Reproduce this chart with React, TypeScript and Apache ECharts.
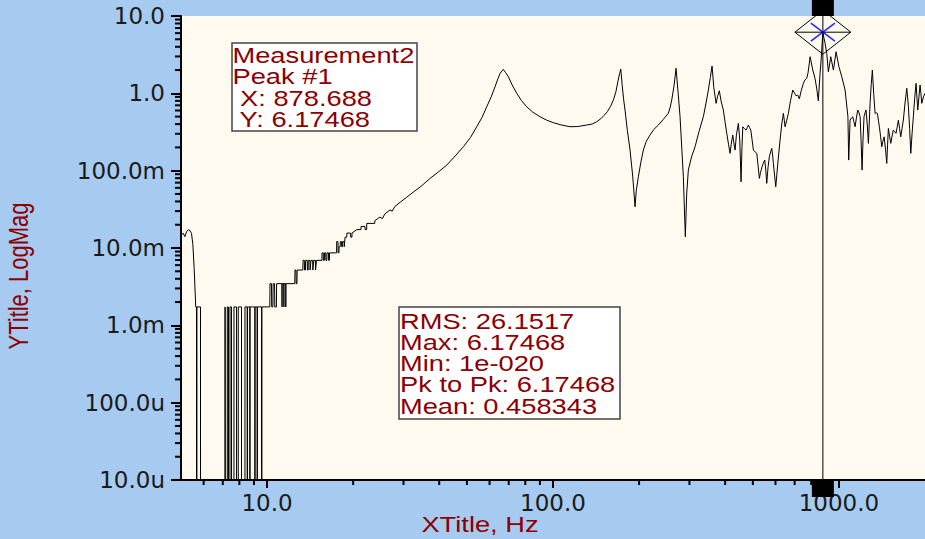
import React, { useEffect, useRef } from "react";
import * as echarts from "echarts";

// ---------- data ----------
// 5 – 20 Hz (quantised values, 1e-20 = zero)
const lowFreqHz = [
  5.0, 5.09, 5.16, 5.23, 5.3, 5.37, 5.44, 5.5, 5.56, 5.63, 5.665, 5.675, 5.685, 5.85, 5.86,
  7.12, 7.13, 7.17, 7.18, 7.25, 7.26, 7.33, 7.34, 7.41, 7.42, 7.51, 7.52, 7.65, 7.66, 7.82, 7.83,
  7.92, 7.93, 8.14, 8.15, 8.36, 8.37, 8.52, 8.53, 8.54, 8.7, 8.71, 8.72, 9.06, 9.07, 9.08, 9.23,
  9.24, 9.25, 9.57, 9.58, 9.59, 10.22, 10.24, 10.36, 10.38, 10.48, 10.5, 10.62, 10.64, 10.78, 10.8,
  11.27, 11.28, 11.29, 11.44, 11.45, 11.46, 11.62, 11.63, 11.64, 12.5, 12.52, 12.62, 12.64, 12.72,
  12.74, 13.34, 13.36, 13.5, 13.52, 13.62, 13.64, 13.82, 13.84, 13.92, 13.94, 14.12, 14.14, 14.22,
  14.24, 14.44, 14.46, 14.54, 14.56, 14.76, 14.78, 14.86, 14.88, 15.55, 15.57, 15.72, 15.74, 15.86,
  15.88, 16.04, 16.06, 16.18, 16.2, 16.4, 16.42, 16.52, 16.54, 17.5, 17.52, 17.7, 17.72, 17.84,
  17.86, 18.02, 18.04, 18.22, 18.24, 18.36, 18.38, 18.6, 18.62, 18.72, 18.74, 19.0, 19.02, 19.6,
  19.62, 19.8, 19.82,
];
const lowMag = [
  0.0147, 0.0155, 0.014, 0.0163, 0.0172, 0.0168, 0.0155, 0.0112, 0.0054, 0.00173, 0.00173, 1e-20, 0.00173, 0.00173, 1e-20,
  1e-20, 0.00173, 0.00173, 1e-20, 1e-20, 0.00173, 0.00173, 1e-20, 1e-20, 0.00173, 0.00173, 1e-20, 1e-20, 0.00173, 0.00173, 1e-20,
  1e-20, 0.00173, 0.00173, 1e-20, 1e-20, 0.00173, 0.00173, 1e-20, 0.00173, 0.00173, 1e-20, 0.00173, 0.00173, 1e-20, 0.00173, 0.00173,
  1e-20, 0.00173, 0.00173, 1e-20, 0.00173, 0.00173, 0.00346, 0.00346, 0.00173, 0.00173, 0.00346, 0.00346, 0.00173, 0.00173, 0.00346,
  0.00346, 0.00173, 0.00346, 0.00346, 0.00173, 0.00346, 0.00346, 0.00173, 0.00346, 0.00346, 0.00519, 0.00519, 0.00346, 0.00346,
  0.00519, 0.00519, 0.00692, 0.00692, 0.00519, 0.00519, 0.00692, 0.00692, 0.00519, 0.00519, 0.00692, 0.00692, 0.00519, 0.00519,
  0.00692, 0.00692, 0.00519, 0.00519, 0.00692, 0.00692, 0.00519, 0.00519, 0.00692, 0.00692, 0.00865, 0.00865, 0.00692, 0.00692,
  0.00865, 0.00865, 0.00692, 0.00692, 0.00865, 0.00865, 0.00692, 0.00692, 0.00865, 0.00865, 0.0121, 0.0121, 0.00865, 0.00865,
  0.0104, 0.0104, 0.0121, 0.0121, 0.0104, 0.0104, 0.0121, 0.0121, 0.0104, 0.0104, 0.0138, 0.0138, 0.0156, 0.0156,
  0.0138, 0.0138, 0.0156,
];
// 20 – 600 Hz
const midFreqHz = [
  20.6, 21.3, 21.32, 22.0, 22.02, 22.3, 22.32, 23.8, 23.82, 24.8, 25.3, 25.8, 26.9, 27.4, 28.0, 29.2,
  30.7, 32.4, 34.6, 37.15, 39.7, 42.5, 45.5, 48.6, 51.5, 54.1, 56.5, 58.65, 60.8, 62.7, 64.2, 65.3,
  67.0, 68.3, 69.8, 72.0, 74.7, 77.5, 80.9, 85.0, 90.1, 95.0, 100.3, 107.0, 114.7, 122.0, 131.2, 137.0,
  142.2, 147.0, 151.0, 155.0, 159.0, 163.0, 166.0, 168.5, 171.0, 172.6, 174.5, 176.5, 178.6, 182.0,
  186.0, 190.0, 193.6, 195.5, 198.9, 203.0, 207.0, 212.0, 218.5, 225.0, 233.6, 243.0, 253.1, 257.0,
  260.2, 265.0, 269.4, 274.0, 278.2, 282.0, 285.7, 290.3, 293.5, 297.4, 305.0, 314.0, 324.0, 335.6,
  343.0, 349.4, 355.0, 360.0, 365.0, 371.8, 376.0, 381.7, 387.0, 394.2, 400.0, 405.2, 411.0, 416.2,
  420.0, 425.3, 429.0, 433.3, 438.0, 445.0, 450.0, 454.7, 458.0, 461.1, 467.0, 473.4, 478.0, 482.4,
  487.0, 491.8, 497.0, 502.2, 509.0, 516.0, 521.0, 526.9, 532.0, 538.5, 544.0, 550.3, 555.0, 559.2,
  565.0, 571.0, 577.0, 582.2, 586.0, 589.8, 596.0,
];
const midMag = [
  0.0173, 0.0173, 0.019, 0.019, 0.0173, 0.0173, 0.0208, 0.0208, 0.0225, 0.0251, 0.024, 0.0275, 0.031, 0.03, 0.0345, 0.039,
  0.045, 0.0525, 0.063, 0.0795, 0.096, 0.118, 0.155, 0.204, 0.27, 0.37, 0.49, 0.671, 0.9, 1.217, 1.55, 1.814,
  2.044, 1.85, 1.639, 1.28, 1.0, 0.81, 0.671, 0.57, 0.498, 0.45, 0.417, 0.39, 0.37, 0.372, 0.389, 0.4,
  0.429, 0.47, 0.52, 0.58, 0.68, 0.84, 1.05, 1.4, 1.8, 2.062, 1.3, 0.85, 0.608, 0.33,
  0.1847, 0.085, 0.0341, 0.055, 0.0834, 0.13, 0.1847, 0.24, 0.289, 0.34, 0.389, 0.46, 0.551, 0.66,
  0.819, 1.25, 2.106, 1.0, 0.498, 0.2, 0.0834, 0.01396, 0.05, 0.1018, 0.15, 0.2038, 0.32, 0.498,
  0.75, 1.103, 1.6, 2.256, 1.2, 0.742, 0.9, 1.08, 0.8, 0.608, 0.42, 0.304, 0.22, 0.1674,
  0.22, 0.289, 0.23, 0.1847, 0.29, 0.409, 0.25, 0.0718, 0.2, 0.37, 0.35, 0.335, 0.36, 0.389,
  0.36, 0.335, 0.25, 0.1847, 0.175, 0.1674, 0.12, 0.0795, 0.095, 0.1123, 0.125, 0.1371, 0.1, 0.0685,
  0.11, 0.1513, 0.175, 0.1943, 0.16, 0.1243, 0.085,
];
// 600 – 2000 Hz
const highFreqHz = [
  601.3, 612.0, 622.5, 631.0, 639.3, 644.0, 648.1, 657.0, 665.6, 677.0, 689.5, 700.0, 708.0, 718.0,
  727.0, 739.0, 751.0, 760.0, 771.8, 780.0, 793.0, 810.0, 825.0, 838.0, 847.0, 859.0, 866.0, 872.0,
  878.688, 886.0, 894.5, 906.7, 918.5, 936.4, 956.3, 977.2, 1000.0, 1023.0, 1051.0, 1075.0, 1082.0,
  1094.0, 1106.0, 1118.0, 1128.0, 1139.0, 1151.0, 1164.0, 1175.0, 1186.0, 1195.0, 1205.0, 1214.0,
  1224.0, 1234.0, 1244.0, 1256.0, 1268.0, 1276.0, 1285.0, 1297.0, 1309.0, 1323.0, 1338.0, 1350.0,
  1363.0, 1374.0, 1385.0, 1398.0, 1412.0, 1425.0, 1439.0, 1455.0, 1470.0, 1480.0, 1489.0, 1504.0,
  1518.0, 1534.0, 1550.0, 1567.0, 1584.0, 1599.0, 1614.0, 1630.0, 1645.0, 1662.0, 1680.0, 1703.0,
  1727.0, 1738.0, 1750.0, 1767.0, 1784.0, 1802.0, 1821.0, 1840.0, 1861.0, 1874.0, 1887.0, 1905.0,
  1922.0, 1935.0, 1948.0, 1975.0, 2000.0,
];
const highMag = [
  0.0619, 0.13, 0.249, 0.4, 0.551, 0.45, 0.37, 0.45, 0.551, 0.8, 1.103, 1.0, 0.93, 0.95,
  0.85, 1.1, 1.347, 1.486, 1.563, 1.85, 2.976, 2.001, 1.56, 1.1, 0.8, 1.81, 2.6, 4.0,
  6.17468, 5.2, 4.43, 3.29, 1.9, 2.976, 2.0, 3.45, 2.21, 1.64, 1.1, 0.5, 0.1371,
  0.451, 0.48, 0.498, 0.43, 0.37, 0.48, 0.608, 0.56, 0.498, 0.25, 0.1018, 0.25,
  0.498, 0.56, 0.608, 0.4, 0.2255, 0.4, 0.742, 1.3, 2.001, 1.0, 0.551, 0.56,
  0.551, 0.45, 0.37, 0.28, 0.2038, 0.24, 0.274, 0.19, 0.1243, 0.22, 0.352, 0.28,
  0.2255, 0.28, 0.335, 0.32, 0.304, 0.37, 0.451, 0.35, 0.274, 0.35, 0.451, 0.75,
  1.161, 0.9, 0.671, 0.35, 0.1674, 0.3, 0.498, 0.85, 1.347, 0.9, 0.608, 0.9,
  1.28, 1.0, 0.742, 0.9, 1.0,
];

const yTickValues = [1e-5, 1e-4, 1e-3, 1e-2, 1e-1, 1, 10];
const yTickLabels = ["10.0u", "100.0u", "1.0m", "10.0m", "100.0m", "1.0", "10.0"];
const xTickValues = [10, 100, 1000];
const xTickLabels = ["10.0", "100.0", "1000.0"];
const minorMultipliers = [2, 3, 4, 5, 6, 7, 8, 9];

const peakHz = 878.688;
const peakMag = 6.17468;
const peakLines = ["Measurement2", "Peak #1", " X: 878.688", " Y: 6.17468"];
const statLines = ["RMS: 26.1517", "Max: 6.17468", "Min: 1e-020", "Pk to Pk: 6.17468", "Mean: 0.458343"];

const xTitle = "XTitle, Hz";
const yTitle = "YTitle, LogMag";

const X_MIN = 5;
const X_MAX = 2000;
const Y_MIN = 1e-5;
const Y_MAX = 10;

// ---------- helpers ----------
function labelFor(values: number[], labels: string[], v: number) {
  const i = values.findIndex((t) => Math.abs(Math.log10(t) - Math.log10(v)) < 1e-6);
  return i >= 0 ? labels[i] : "";
}

function minorTicks(lo: number, hi: number) {
  const out: number[] = [];
  for (let e = -6; e <= 4; e++) {
    const d = Math.pow(10, e);
    for (let j = 0; j < minorMultipliers.length; j++) {
      const v = Number((minorMultipliers[j] * d).toPrecision(6));
      if (v > lo * 1.0001 && v < hi * 0.9999) out.push(v);
    }
  }
  return out;
}

const TEXT_RED = "#8B0000";
const STRETCH = 1.24;
const ARIAL = '22px "Liberation Sans", Arial, sans-serif';

export default function App() {
  const ref = useRef<HTMLDivElement>(null);

  useEffect(() => {
    if (!ref.current) return;
    const chart = echarts.init(ref.current, undefined, { renderer: "svg" });

    const freq = [...lowFreqHz, ...midFreqHz, ...highFreqHz];
    const mag = [...lowMag, ...midMag, ...highMag];
    const lineData = freq.map((f, i) => [f, mag[i]]);

    const xMinor = minorTicks(X_MIN, X_MAX);
    const yMinor = minorTicks(Y_MIN, Y_MAX);

    const option: any = {
      animation: false,
      backgroundColor: "#A6CAF0",
      grid: {
        left: 181,
        right: 0,
        top: 16,
        bottom: 59,
        show: true,
        backgroundColor: "#FFFAF0",
        borderWidth: 0,
        containLabel: false,
      },
      xAxis: {
        type: "log",
        logBase: 10,
        min: X_MIN,
        max: X_MAX,
        axisLine: { show: true, onZero: false, lineStyle: { color: "#000", width: 2 } },
        axisTick: { show: true, length: 8, lineStyle: { color: "#000", width: 2 } },
        axisLabel: {
          showMinLabel: false,
          showMaxLabel: false,
          margin: 11,
          color: "#1a1a1a",
          fontFamily: "DejaVu Sans",
          fontSize: 23,
          formatter: (v: number) => labelFor(xTickValues, xTickLabels, v),
        },
        splitLine: { show: false },
      },
      yAxis: {
        type: "log",
        logBase: 10,
        min: Y_MIN,
        max: Y_MAX,
        axisLine: { show: true, onZero: false, lineStyle: { color: "#000", width: 2 } },
        axisTick: { show: true, length: 10, lineStyle: { color: "#000", width: 2 } },
        axisLabel: {
          margin: 16,
          color: "#1a1a1a",
          fontFamily: "DejaVu Sans",
          fontSize: 23,
          formatter: (v: number) => labelFor(yTickValues, yTickLabels, v),
        },
        splitLine: { show: false },
      },
      series: [
        {
          type: "line",
          name: "Measurement2",
          data: lineData,
          showSymbol: false,
          symbol: "none",
          clip: true,
          silent: true,
          lineStyle: { color: "#000", width: 1 },
          z: 3,
        },
        {
          // minor (2..9 per decade) ticks of both log axes, placed through the axes' scales
          type: "custom",
          name: "minorTicks",
          data: [[100, 1]],
          clip: false,
          z: 10,
          renderItem: (_p: any, api: any) => {
            const children: any[] = [];
            xMinor.forEach((v) => {
              const p = api.coord([v, Y_MIN]);
              children.push({
                type: "line",
                shape: { x1: p[0], y1: p[1], x2: p[0], y2: p[1] + 5 },
                style: { stroke: "#000", lineWidth: 2 },
              });
            });
            yMinor.forEach((v) => {
              const p = api.coord([X_MIN, v]);
              children.push({
                type: "line",
                shape: { x1: p[0] - 6, y1: p[1], x2: p[0], y2: p[1] },
                style: { stroke: "#000", lineWidth: 2 },
              });
            });
            return { type: "group", children };
          },
        },
        {
          type: "custom",
          name: "cursor",
          data: [[peakHz, peakMag]],
          clip: false,
          silent: true,
          z: 11,
          renderItem: (_p: any, api: any) => {
            const f = api.value(0);
            const c = api.coord([f, api.value(1)]);
            const top = api.coord([f, Y_MAX]);
            const bot = api.coord([f, Y_MIN]);
            const x = c[0];
            const y = c[1];
            return {
              type: "group",
              children: [
                {
                  type: "line",
                  shape: { x1: x, y1: top[1], x2: x, y2: bot[1] },
                  style: { stroke: "#000", lineWidth: 1 },
                },
                {
                  type: "line",
                  shape: { x1: x - 12, y1: y - 9, x2: x + 12, y2: y + 9 },
                  style: { stroke: "#2424ff", lineWidth: 1.5 },
                },
                {
                  type: "line",
                  shape: { x1: x - 12, y1: y + 9, x2: x + 12, y2: y - 9 },
                  style: { stroke: "#2424ff", lineWidth: 1.5 },
                },
                {
                  type: "polygon",
                  shape: { points: [[x - 28, y], [x, y - 22], [x + 28, y], [x, y + 22]] },
                  style: { fill: "none", stroke: "#000", lineWidth: 1 },
                },
                {
                  type: "line",
                  shape: { x1: x - 28, y1: y, x2: x + 28, y2: y },
                  style: { stroke: "#000", lineWidth: 1 },
                },
                {
                  type: "rect",
                  shape: { x: x - 11, y: top[1] - 16, width: 22, height: 16 },
                  style: { fill: "#000" },
                },
                {
                  type: "rect",
                  shape: { x: x - 11, y: bot[1], width: 22, height: 17 },
                  style: { fill: "#000" },
                },
              ],
            };
          },
        },
      ],
      graphic: [
        {
          type: "rect",
          z: 100,
          shape: { x: 232, y: 43, width: 185, height: 88 },
          style: { fill: "#fff", stroke: "#444", lineWidth: 1.5 },
        },
        {
          type: "text",
          z: 101,
          x: 232.5,
          y: 44.75,
          scaleX: STRETCH,
          style: {
            text: peakLines.join("\n"),
            font: ARIAL,
            fill: TEXT_RED,
            lineHeight: 21.3,
            align: "left",
            verticalAlign: "top",
          },
        },
        {
          type: "rect",
          z: 100,
          shape: { x: 399, y: 307, width: 221, height: 112 },
          style: { fill: "#fff", stroke: "#444", lineWidth: 1.5 },
        },
        {
          type: "text",
          z: 101,
          x: 400,
          y: 310.75,
          scaleX: STRETCH,
          style: {
            text: statLines.join("\n"),
            font: ARIAL,
            fill: TEXT_RED,
            lineHeight: 21.2,
            align: "left",
            verticalAlign: "top",
          },
        },
        {
          type: "text",
          z: 101,
          x: 480,
          y: 524.5,
          scaleX: STRETCH,
          style: {
            text: xTitle,
            font: ARIAL,
            fill: TEXT_RED,
            align: "center",
            verticalAlign: "middle",
          },
        },
        {
          type: "text",
          z: 101,
          x: 19,
          y: 276,
          rotation: Math.PI / 2,
          scaleY: STRETCH,
          style: {
            text: yTitle,
            font: ARIAL,
            fill: TEXT_RED,
            align: "center",
            verticalAlign: "middle",
          },
        },
      ],
    };

    chart.setOption(option);
    return () => chart.dispose();
  }, []);

  return (
    <div
      ref={ref}
      style={{ position: "fixed", left: 0, top: 0, width: 925, height: 539 }}
    />
  );
}
